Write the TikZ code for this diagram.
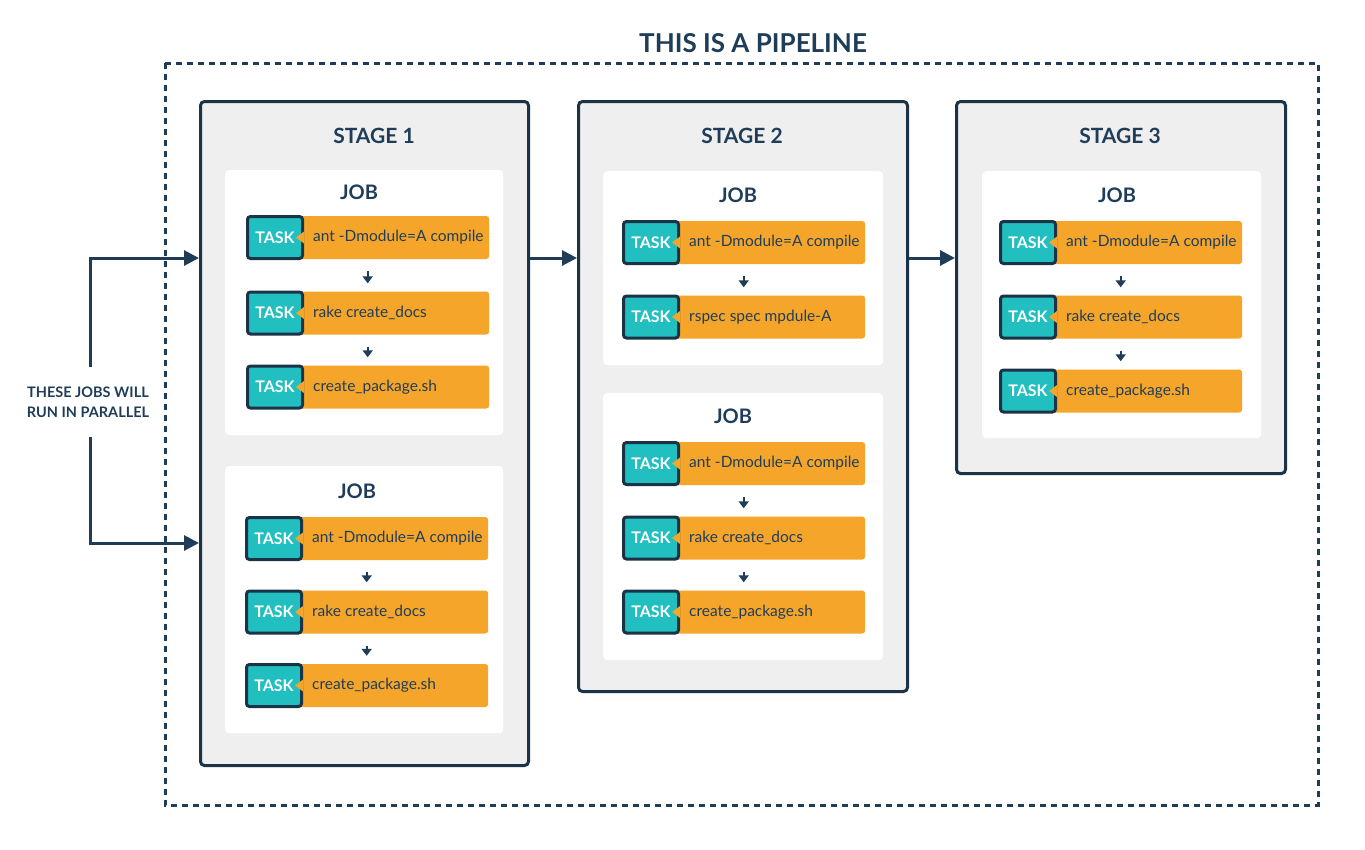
\documentclass[tikz,border=0pt]{standalone}
\usepackage{fontspec}
\setmainfont{Lato}
\usepackage{tikz}
\usetikzlibrary{arrows.meta,positioning,calc}
\definecolor{navy}{HTML}{1B3347}
\definecolor{ink}{HTML}{1F3D58}
\definecolor{tasky}{HTML}{F5A62A}
\definecolor{tagteal}{HTML}{21BFBF}
\definecolor{stagegray}{HTML}{EFEFEF}

\begin{document}
\begin{tikzpicture}[x=1pt,y=-1pt,
    stagebox/.style={draw=navy,fill=stagegray,line width=3pt,rounded corners=4pt,anchor=north west},
    jobbox/.style={fill=white,rounded corners=4pt,anchor=north west},
    stagetitle/.style={font=\bfseries\fontsize{21}{24}\selectfont,text=ink},
    jobtitle/.style={font=\bfseries\fontsize{20}{24}\selectfont,text=ink},
    taskbody/.style={fill=tasky,rounded corners=3pt,minimum width=243pt,minimum height=43pt,anchor=west,inner sep=0pt},
    tasktag/.style={fill=tagteal,draw=navy,line width=3pt,rounded corners=3pt,minimum width=55pt,minimum height=42pt,anchor=west,inner sep=0pt,text=white,font=\bfseries\fontsize{16}{18}\selectfont},
    tasktext/.style={anchor=west,inner sep=0pt,text=ink,font=\fontsize{15.5}{18}\selectfont},
    flow/.style={draw=ink,line width=3pt,-{Triangle[length=15pt,width=15pt]}},
    steparrow/.style={draw=ink,line width=2pt,-{Triangle[length=7pt,width=10pt]},shorten <=12pt,shorten >=8pt}]
  \useasboundingbox (0,0) rectangle (1365,849);

  % pipeline frame
  \draw[ink,line width=3pt,dash pattern=on 6pt off 5pt] (165,63) rectangle (1318,805);
  \node[font=\bfseries\fontsize{26}{30}\selectfont,text=ink] (ttl) at (753,43) {THIS IS A PIPELINE};

  % stages
  \node[stagebox,minimum width=328pt,minimum height=664pt] (s1) at (199,100) {};
  \node[stagebox,minimum width=329pt,minimum height=590pt] (s2) at (577,100) {};
  \node[stagebox,minimum width=329pt,minimum height=372pt] (s3) at (955,100) {};
  \node[stagetitle] (s1t) at (374,136) {STAGE 1};
  \node[stagetitle] (s2t) at (742,136) {STAGE 2};
  \node[stagetitle] (s3t) at (1120,136) {STAGE 3};

  % jobs
  \node[jobbox,minimum width=278pt,minimum height=265pt] (s1a) at (225,170) {};
  \node[jobbox,minimum width=278pt,minimum height=267pt] (s1b) at (225,466) {};
  \node[jobbox,minimum width=280pt,minimum height=194pt] (s2a) at (603,171) {};
  \node[jobbox,minimum width=280pt,minimum height=267pt] (s2b) at (603,393) {};
  \node[jobbox,minimum width=279pt,minimum height=267pt] (s3a) at (982,171) {};
  \foreach \j/\x/\y in {s1a/359/192,s1b/357/491,s2a/738/195,s2b/733/416,s3a/1117/195}
    \node[jobtitle] (\j t) at (\x,\y) {JOB};

  % tasks
  \foreach \id/\xl/\yc/\txt in {
      s1a1/246/237.5/ant -Dmodule=A compile, s1a2/246/313/rake create\_docs, s1a3/246/387/create\_package.sh,
      s1b1/245/538.5/ant -Dmodule=A compile, s1b2/245/612/rake create\_docs, s1b3/245/685.5/create\_package.sh,
      s2a1/622/242.5/ant -Dmodule=A compile, s2a2/622/317/rspec spec mpdule-A,
      s2b1/622/463.5/ant -Dmodule=A compile, s2b2/622/538/rake create\_docs, s2b3/622/612/create\_package.sh,
      s3a1/999/242.5/ant -Dmodule=A compile, s3a2/999/317/rake create\_docs, s3a3/999/391/create\_package.sh}{
    \node[taskbody] (\id) at (\xl,\yc) {};
    \node[tasktag] (\id g) at (\xl,\yc) {TASK};
    \fill[tasky] ([yshift=6pt]\id g.east) -- ++(-8,6) -- ++(8,6) -- cycle;
    \node[tasktext] (\id x) at ([xshift=9pt]\id g.east) {\txt};
  }
  \foreach \a/\b in {s1a1/s1a2,s1a2/s1a3,s1b1/s1b2,s1b2/s1b3,s2a1/s2a2,
      s2b1/s2b2,s2b2/s2b3,s3a1/s3a2,s3a2/s3a3}
    \draw[steparrow] (\a) -- (\b);

  % flow between stages
  \coordinate (in1) at (0,258);
  \coordinate (in2) at (0,543);
  \draw[flow] (s1.east |- in1) -- (s2.west |- in1);
  \draw[flow] (s2.east |- in1) -- (s3.west |- in1);

  % parallel jobs note
  \node[align=center,inner sep=0pt,text=ink,font=\bfseries\fontsize{14.5}{20}\selectfont] (par) at (88,402) {THESE JOBS WILL\\RUN IN PARALLEL};
  \draw[flow] ([xshift=2pt,yshift=19pt]par.north) |- (s1.west |- in1);
  \draw[flow] ([xshift=2pt,yshift=-19pt]par.south) |- (s1.west |- in2);
\end{tikzpicture}
\end{document}
